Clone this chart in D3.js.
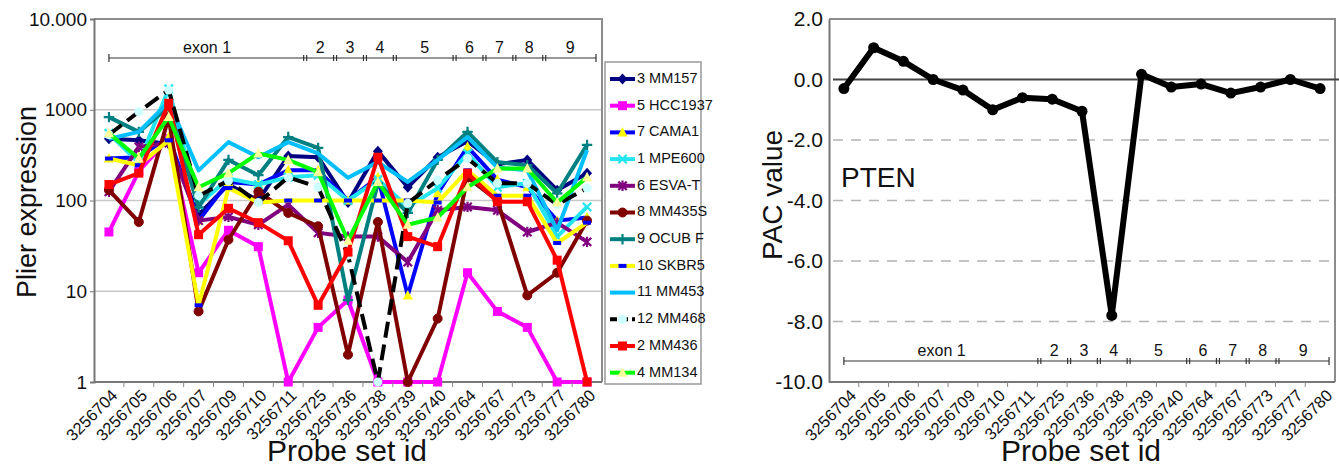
<!DOCTYPE html>
<html><head><meta charset="utf-8">
<script src="https://cdn.jsdelivr.net/npm/d3@7"></script>
<style>body{margin:0;background:#fff} svg{display:block;font-family:"Liberation Sans",Arial,sans-serif}</style>
</head><body><svg id="c" width="1339" height="467"></svg>
<script>
// ---------- data ----------
const probes = ["3256704","3256705","3256706","3256707","3256709","3256710","3256711","3256725","3256736","3256738","3256739","3256740","3256764","3256767","3256773","3256777","3256780"];
const exonLabels = ["exon 1","2","3","4","5","6","7","8","9"];
const exonFirst  = [0,7,8,9,10,12,13,14,15];
const exonLast   = [6,7,8,9,11,12,13,14,16];
const plierTickValues = [1,10,100,1000,10000];
const plierTickLabels = ["1","10","100","1000","10.000"];
const pacTickValues = [2,0,-2,-4,-6,-8,-10];
const pacTickLabels = ["2.0","0.0","-2.0","-4.0","-6.0","-8.0","-10.0"];
const pacValues = [-0.3,1.05,0.6,0.0,-0.35,-1.0,-0.6,-0.65,-1.05,-7.8,0.17,-0.25,-0.15,-0.45,-0.25,0.0,-0.3];

const seriesNames = ["3 MM157","5 HCC1937","7 CAMA1","1 MPE600","6 ESVA-T","8 MM435S","9 OCUB F","10 SKBR5","11 MM453","12 MM468","2 MM436","4 MM134"];
const mm157   = [480,460,420,70,150,100,310,300,95,350,140,300,450,250,280,130,200];
const hcc1937 = [45,210,480,16,47,31,1,4,8,1,1,1,16,6,4,1,1];
const cama1   = [290,300,500,60,160,150,215,215,100,180,9,120,390,170,140,60,65];
const mpe600  = [550,260,1700,90,175,150,180,190,100,170,85,137,330,140,155,40,85];
const esvaT   = [125,390,430,60,66,54,90,44,40,40,21,78,85,78,45,57,35];
const mm435s  = [130,58,830,6,37,125,73,52,2,58,1,5,180,100,9,16,60];
const ocubF   = [830,570,1070,84,280,190,500,380,8,155,73,280,570,265,245,120,410];
const skbr5   = [290,245,460,7,137,95,100,100,100,100,100,95,215,113,113,34,57];
const mm453   = [480,570,1220,215,440,300,440,330,178,265,160,280,500,230,215,47,360];
const mm468   = [530,950,1650,113,165,95,180,140,25,1,93,168,290,155,155,90,137];
const mm436   = [150,200,1180,42,82,57,36,7,27,300,40,31,200,97,97,22,1];
const mm134   = [550,290,830,140,200,330,280,205,36,160,54,65,140,225,225,95,180];
const seriesValues = [mm157,hcc1937,cama1,mpe600,esvaT,mm435s,ocubF,skbr5,mm453,mm468,mm436,mm134];

// ---------- styles ----------
const styles = [
  {color:"#000080", marker:"diamond", mfill:"#000080"},
  {color:"#FF00FF", marker:"square",  mfill:"#FF00FF"},
  {color:"#0000FF", marker:"triangle",mfill:"#FFFF00"},
  {color:"#22E5F0", marker:"times",   mfill:"#22E5F0"},
  {color:"#800080", marker:"asterisk",mfill:"#800080"},
  {color:"#800000", marker:"circle",  mfill:"#800000"},
  {color:"#008080", marker:"plus",    mfill:"#008080"},
  {color:"#FFFF00", marker:"dash",    mfill:"#0000FF"},
  {color:"#00BFFF", marker:"none",    mfill:"none"},
  {color:"#000000", marker:"circle",  mfill:"#CCFFFF", dash:"16,7"},
  {color:"#FF0000", marker:"square",  mfill:"#FF0000"},
  {color:"#00FF00", marker:"triangle",mfill:"#FFFF99"}
];

const svg = d3.select("#c");
const FONT = '"Liberation Sans",Arial,sans-serif';

function drawMarker(g, type, x, y, st){
  const s = 4.2;
  if(type==="none") return;
  if(type==="circle"){ g.append("circle").attr("cx",x).attr("cy",y).attr("r",4.5).attr("fill",st.mfill).attr("stroke",st.mfill==="#CCFFFF"?"none":st.mfill); return; }
  if(type==="square"){ g.append("rect").attr("x",x-4.5).attr("y",y-4.5).attr("width",9).attr("height",9).attr("fill",st.mfill); return; }
  if(type==="diamond"){ g.append("path").attr("d",`M${x},${y-5.5}L${x+5},${y}L${x},${y+5.5}L${x-5},${y}Z`).attr("fill",st.mfill); return; }
  if(type==="triangle"){ g.append("path").attr("d",`M${x},${y-5.5}L${x+5},${y+4}L${x-5},${y+4}Z`).attr("fill",st.mfill); return; }
  if(type==="dash"){ g.append("rect").attr("x",x-4).attr("y",y-2).attr("width",8).attr("height",4).attr("fill",st.mfill); return; }
  const p = d3.path();
  if(type==="times"||type==="asterisk"){ p.moveTo(x-s,y-s);p.lineTo(x+s,y+s);p.moveTo(x-s,y+s);p.lineTo(x+s,y-s); }
  if(type==="plus"||type==="asterisk"){ p.moveTo(x,y-s-1);p.lineTo(x,y+s+1); if(type==="plus"){p.moveTo(x-s-1,y);p.lineTo(x+s+1,y);} }
  g.append("path").attr("d",p.toString()).attr("stroke",st.mfill).attr("stroke-width",2.2).attr("fill","none");
}

function exonBar(g, xs, xc, yBar, fs){
  const bw = xs.bandwidth();
  const left = xc(0), right = xc(probes.length-1)+bw*0.3;
  g.append("line").attr("x1",left).attr("x2",right).attr("y1",yBar).attr("y2",yBar).attr("stroke","#333").attr("stroke-width",1.2);
  const tick = (x,h)=>g.append("line").attr("x1",x).attr("x2",x).attr("y1",yBar-h).attr("y2",yBar+h).attr("stroke","#333").attr("stroke-width",1.2);
  tick(left,4); tick(right,4);
  exonLabels.forEach((lab,i)=>{
    const a = i===0 ? left : xs(probes[exonFirst[i]])+2;
    const b = i===exonLabels.length-1 ? right : xs(probes[exonLast[i]])+bw+2;
    if(i>0){ tick(a-1.5,3); tick(a+1.5,3); }
    g.append("text").attr("x",(a+b)/2).attr("y",yBar-5).attr("text-anchor","middle")
      .attr("font-size",fs).attr("fill","#111").text(lab);
  });
}

function xAxisLabels(g, xs, xc, y0, fs, dx){
  probes.forEach((p,i)=>{
    const bx = xs(p);
    if(i>0) g.append("line").attr("x1",bx).attr("x2",bx).attr("y1",y0).attr("y2",y0+5).attr("stroke","#888");
    g.append("text").attr("transform",`translate(${xc(i)+dx},${y0+6}) rotate(-45)`)
      .attr("text-anchor","end").attr("dominant-baseline","hanging").attr("font-size",fs).attr("fill","#111").text(p);
  });
}

// ================= LEFT CHART =================
const L = {x0:94, x1:602, y0:19, y1:382};
const xL = d3.scaleBand().domain(probes).range([L.x0,L.x1]);
const xLc = i => xL(probes[i]) + xL.bandwidth()/2;
const yL = d3.scaleLog().domain([1,10000]).range([L.y1,L.y0]);
const gL = svg.append("g");

plierTickValues.slice(1,4).forEach(v=>{
  gL.append("line").attr("x1",L.x0).attr("x2",L.x1).attr("y1",yL(v)).attr("y2",yL(v)).attr("stroke","#c8c8c8").attr("stroke-width",1.5);
});
gL.append("path").attr("d",`M${L.x0},${L.y0}H${L.x1}V${L.y1}`).attr("fill","none").attr("stroke","#8c8c8c").attr("stroke-width",2);
const axL = d3.axisLeft(yL).tickValues(plierTickValues).tickFormat((d,i)=>plierTickLabels[i]).tickSize(4).tickPadding(3);
const gAxL = gL.append("g").attr("transform",`translate(${L.x0},0)`).call(axL);
gAxL.select(".domain").attr("stroke","#777").attr("stroke-width",2);
gAxL.selectAll(".tick line").attr("stroke","#777");
gAxL.selectAll(".tick text").attr("font-size",19).attr("font-family",FONT).attr("fill","#111");
gL.append("line").attr("x1",L.x0).attr("x2",L.x1).attr("y1",L.y1).attr("y2",L.y1).attr("stroke","#777").attr("stroke-width",2);

const lineL = d3.line().x((d,i)=>xLc(i)).y(d=>yL(d));
seriesValues.forEach((vals,k)=>{
  const st = styles[k];
  gL.append("path").datum(vals).attr("d",lineL).attr("fill","none").attr("stroke",st.color)
    .attr("stroke-width",4).attr("stroke-linejoin","round").attr("stroke-dasharray",st.dash||null);
  const gm = gL.append("g");
  vals.forEach((v,i)=>drawMarker(gm, st.marker, xLc(i), yL(v), st));
});

exonBar(gL, xL, xLc, 58, 16);
xAxisLabels(gL, xL, xLc, L.y1, 16.5, 1);

gL.append("text").attr("transform",`translate(36,202) rotate(-90)`).attr("text-anchor","middle").attr("font-size",27).attr("fill","#111").text("Plier expression");
gL.append("text").attr("x",347).attr("y",461).attr("text-anchor","middle").attr("font-size",30).attr("fill","#111").text("Probe set id");

// legend
const gLeg = svg.append("g");
gLeg.append("rect").attr("x",605).attr("y",62).attr("width",96).attr("height",322).attr("fill","#fff").attr("stroke","#999").attr("stroke-width",1.5);
seriesNames.forEach((name,k)=>{
  const st = styles[k], yy = 79 + k*26.7;
  gLeg.append("line").attr("x1",610).attr("x2",635).attr("y1",yy).attr("y2",yy).attr("stroke",st.color).attr("stroke-width",4)
    .attr("stroke-dasharray",st.dash?"7,4":null);
  drawMarker(gLeg, st.marker, 622.5, yy, st);
  gLeg.append("text").attr("x",637).attr("y",yy).attr("dominant-baseline","middle").attr("font-size",14.5).attr("fill","#111").text(name);
});

// ================= RIGHT CHART =================
const R = {x0:829, x1:1335, y0:19, y1:382};
const xR = d3.scaleBand().domain(probes).range([R.x0,R.x1]);
const xRc = i => xR(probes[i]) + xR.bandwidth()/2;
const yR = d3.scaleLinear().domain([-10,2]).range([R.y1,R.y0]);
const gR = svg.append("g");
pacTickValues.filter(v=>v<0 && v>-10).forEach(v=>{
  gR.append("line").attr("x1",R.x0+4).attr("x2",R.x1).attr("y1",yR(v)).attr("y2",yR(v)).attr("stroke","#b4b4b4").attr("stroke-width",1.5).attr("stroke-dasharray","10,8");
});
gR.append("path").attr("d",`M${R.x0},${R.y0}H${R.x1}V${R.y1}`).attr("fill","none").attr("stroke","#8c8c8c").attr("stroke-width",2);
gR.append("line").attr("x1",R.x0+4).attr("x2",1339).attr("y1",yR(0)).attr("y2",yR(0)).attr("stroke","#444").attr("stroke-width",2);
const axR = d3.axisLeft(yR).tickValues(pacTickValues).tickFormat((d,i)=>pacTickLabels[i]).tickSize(0).tickPadding(6);
const gAxR = gR.append("g").attr("transform",`translate(${R.x0},0)`).call(axR);
gAxR.select(".domain").attr("stroke","#777").attr("stroke-width",2);
gAxR.selectAll(".tick text").attr("font-size",21).attr("font-family",FONT).attr("fill","#111");
gR.append("line").attr("x1",R.x0).attr("x2",R.x1).attr("y1",R.y1).attr("y2",R.y1).attr("stroke","#777").attr("stroke-width",2);

const lineR = d3.line().x((d,i)=>xRc(i)).y(d=>yR(d));
gR.append("path").datum(pacValues).attr("d",lineR).attr("fill","none").attr("stroke","#000").attr("stroke-width",6).attr("stroke-linejoin","round");
pacValues.forEach((v,i)=>gR.append("circle").attr("cx",xRc(i)).attr("cy",yR(v)).attr("r",5.5).attr("fill","#000"));

exonBar(gR, xR, xRc, 361, 16);
xAxisLabels(gR, xR, xRc, R.y1, 16.5, 5);

gR.append("text").attr("x",841).attr("y",187).attr("font-size",28).attr("fill","#111").text("PTEN");
gR.append("text").attr("transform",`translate(782,195) rotate(-90)`).attr("text-anchor","middle").attr("font-size",28).attr("fill","#111").text("PAC value");
gR.append("text").attr("x",1081).attr("y",461).attr("text-anchor","middle").attr("font-size",30).attr("fill","#111").text("Probe set id");
</script></body></html>
